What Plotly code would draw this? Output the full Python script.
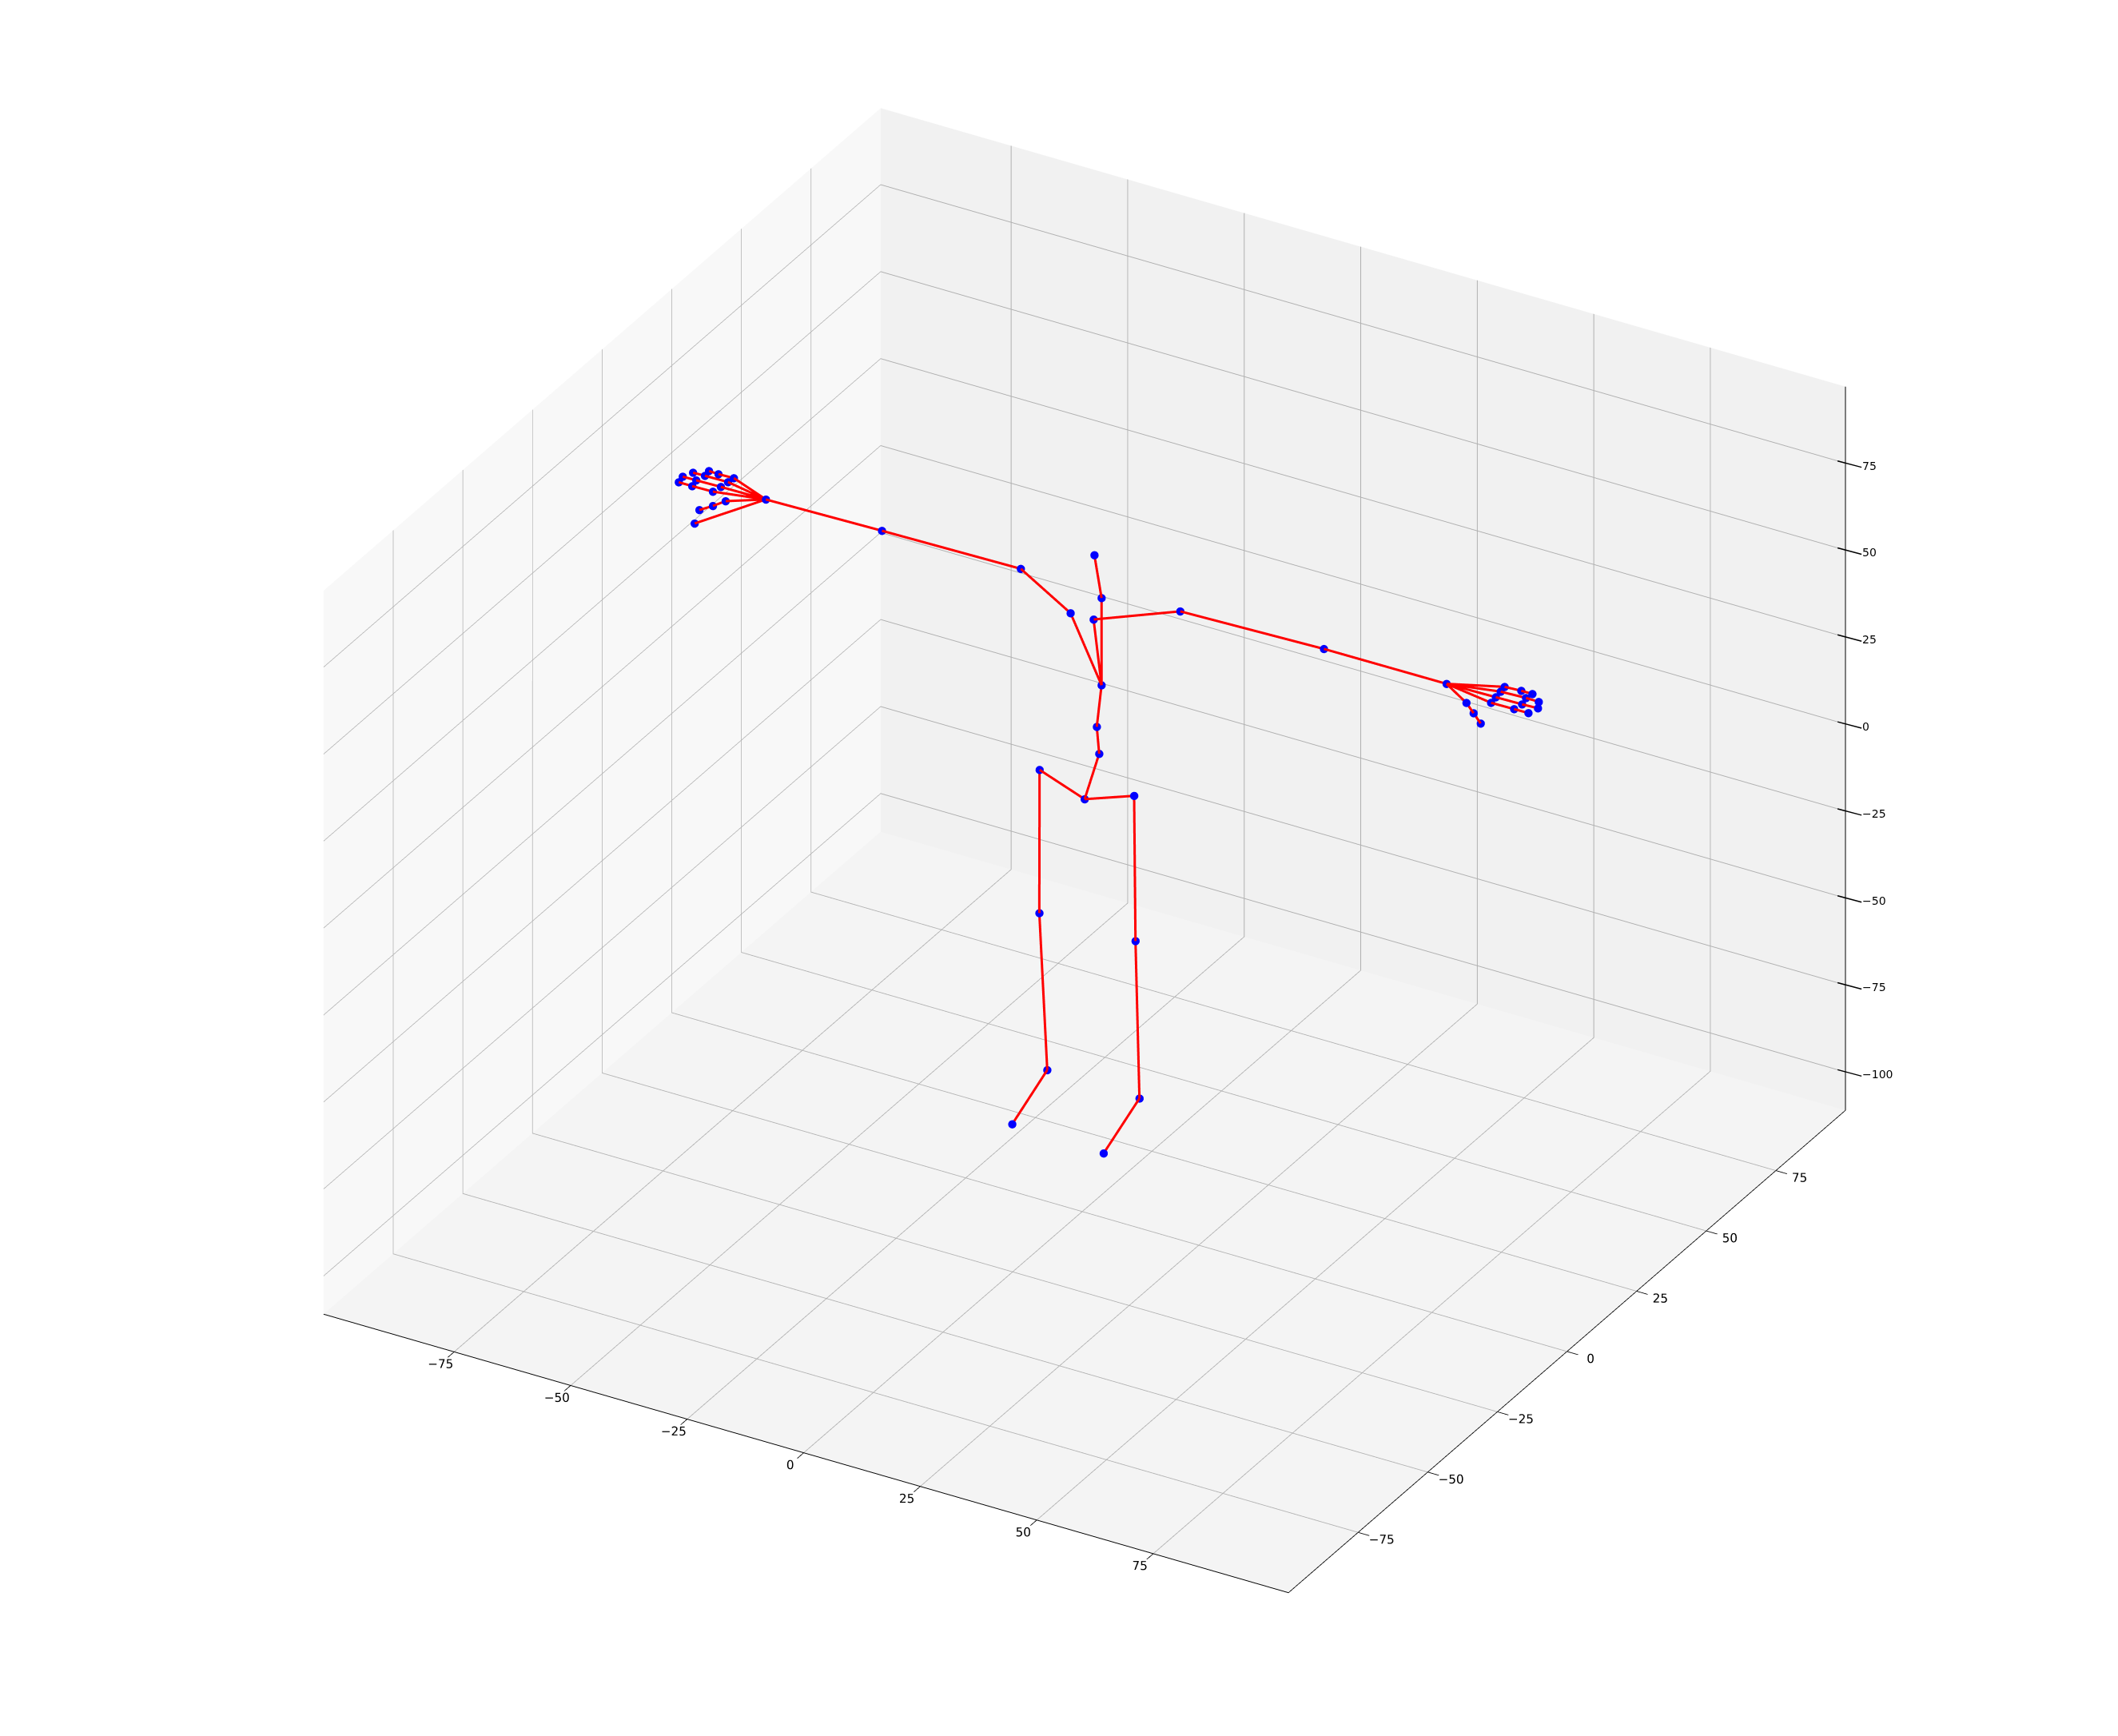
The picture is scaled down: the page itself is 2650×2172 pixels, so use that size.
import plotly.graph_objects as go

# Joint positions (data units)
joint_names = ["head","neck","chest","spine2","spine1","pelvis","hip_l","hip_r","knee_l","knee_r","ankle_l","ankle_r","toe_l","toe_r",
 "clav_l","clav_r","sho_l","sho_r","elb_l","elb_r","wri_l","wri_r",
 "lf1a","lf1b","lf1c","lf2a","lf2b","lf2c","lf3a","lf3b","lf3c","lf4a","lf4b","lf4c","lt1","lt2","lt3","lt0",
 "rt1","rt2","rt3","rf1a","rf1b","rf1c","rf2a","rf2b","rf2c","rf3a","rf3b","rf3c","rf4a","rf4b","rf4c"]
joint_x = [5.59,7.13,7.13,6.11,6.62,3.50,-6.17,14.12,-6.22,14.41,-4.52,15.26,-4.27,15.34,
 0.48,5.42,-10.2,24.01,-39.99,54.83,-64.89,81.14,
 -76.26,-80.70,-83.59,-74.56,-79.84,-82.74,-73.02,-77.97,-80.53,-71.76,-75.07,-77.11,-73.53,-76.26,-79.16,-80.18,
 85.4,86.94,88.47,90.69,95.63,98.7,91.71,97.34,100.75,92.74,98.19,100.92,93.59,97.17,99.56]
joint_y = [-5]*12 + [-18,-18] + [-5]*39
joint_z = [83.32,71.59,46.52,34.17,26.61,12.36,17.05,17.43,-24.14,-24.2,-68.6,-69.11,-75.05,-75.85,
 64.66,64.75,73.28,74.28,72.69,75.4,72.05,75.54,
 69.91,69.78,69.79,71.94,71.78,71.72,73.91,73.81,73.72,75.54,75.4,75.52,68.23,65.8,63.52,59.24,
 71.73,69.36,66.98,73.79,73.89,73.94,75.79,75.92,76.11,77.79,78.08,78.01,79.49,79.75,79.76]
chains = [["head","neck","chest","spine2","spine1","pelvis"],
 ["hip_l","pelvis","hip_r"],["hip_l","knee_l","ankle_l","toe_l"],["hip_r","knee_r","ankle_r","toe_r"],
 ["chest","clav_l","sho_l","elb_l","wri_l"],["chest","clav_r","sho_r","elb_r","wri_r"],
 ["wri_l","lf1a","lf1b","lf1c"],["wri_l","lf2a","lf2b","lf2c"],["wri_l","lf3a","lf3b","lf3c"],["wri_l","lf4a","lf4b","lf4c"],
 ["wri_l","lt1","lt2","lt3"],["wri_l","lt0"],
 ["wri_r","rt1","rt2","rt3"],["wri_r","rf1a","rf1b","rf1c"],["wri_r","rf2a","rf2b","rf2c"],["wri_r","rf3a","rf3b","rf3c"],["wri_r","rf4a","rf4b","rf4c"]]
x_range = [-103, 104]
y_range = [-100, 100]
z_range = [-111, 97]
x_ticks = [-75,-50,-25,0,25,50,75]
y_ticks = [-75,-50,-25,0,25,50,75]
z_ticks = [-100,-75,-50,-25,0,25,50,75]

idx = {n:i for i,n in enumerate(joint_names)}
lx,ly,lz = [],[],[]
for c in chains:
    for n in c:
        lx.append(joint_x[idx[n]]); ly.append(joint_y[idx[n]]); lz.append(joint_z[idx[n]])
    lx.append(None); ly.append(None); lz.append(None)

def lab(t):
    return str(t).replace("-","\u2212")

fig = go.Figure()
# z axis edge on the right, where the reference has it
fig.add_trace(go.Scatter3d(x=[x_range[1]]*2,y=[y_range[1]]*2,z=z_range,mode="lines",line=dict(color="#000000",width=2),hoverinfo="skip",showlegend=False))
fig.add_trace(go.Scatter3d(x=lx,y=ly,z=lz,mode="lines",line=dict(color="#ff0000",width=6),hoverinfo="skip",showlegend=False))
fig.add_trace(go.Scatter3d(x=joint_x,y=joint_y,z=joint_z,mode="markers",marker=dict(color="#0000ff",size=6,line=dict(width=0)),showlegend=False))

def ax(rng,ticks,bg,native=True):
    d = dict(range=rng,tickvals=ticks,ticktext=[lab(t) for t in ticks],autorange=False,title=dict(text=""),
        showbackground=True,backgroundcolor=bg,showgrid=True,gridcolor="#b0b0b0",gridwidth=2,zeroline=False,
        showline=native,linecolor="#000000",linewidth=2,ticks="outside" if native else "",ticklen=16,tickcolor="#000000",tickwidth=2,
        tickangle=0,showticklabels=native,
        tickfont=dict(family="DejaVu Sans",size=13.5,color="#000000"),showspikes=False)
    return d

z_annots = []
for t in z_ticks:
    z_annots.append(dict(x=x_range[1]-1.7,y=y_range[1],z=t,text=" ",showarrow=True,arrowhead=0,arrowwidth=1.5,arrowcolor="#000000",
                         ax=32,ay=8.5,standoff=0,font=dict(size=2)))
    z_annots.append(dict(x=x_range[1],y=y_range[1],z=t,text=lab(t),showarrow=False,xanchor="left",yanchor="middle",xshift=19,yshift=-3,
                         font=dict(family="DejaVu Sans",size=14,color="#000000")))

zoom=1.32
r=1.515
fig.update_layout(width=2650,height=2172,paper_bgcolor="white",margin=dict(l=48,r=0,t=0,b=60),showlegend=False,
    scene=dict(xaxis=ax(x_range,x_ticks,"#f8f8f8"),yaxis=ax(y_range,y_ticks,"#f1f1f1"),zaxis=ax(z_range,z_ticks,"#f4f4f4",native=False),
        aspectmode="manual",aspectratio=dict(x=zoom,y=zoom,z=0.75*zoom),annotations=z_annots,
        camera=dict(projection=dict(type="orthographic"),up=dict(x=0,y=0,z=1),center=dict(x=0,y=0,z=0),
                    eye=dict(x=r*0.433,y=-r*0.75,z=r*0.5))))
fig.write_html("out.html")
